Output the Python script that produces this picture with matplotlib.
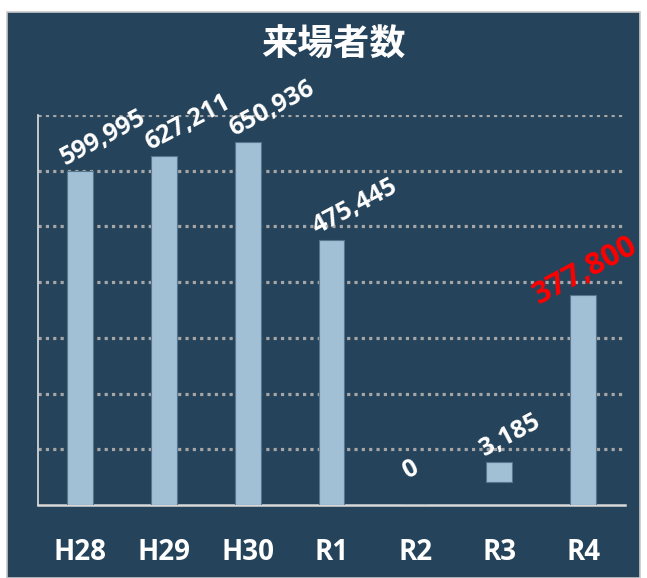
import numpy as np
import matplotlib.pyplot as plt
from matplotlib.patches import Rectangle

plt.rcParams['font.family'] = ['Open Sans', 'Noto Sans CJK JP', 'DejaVu Sans']

# data
categories = ['H28', 'H29', 'H30', 'R1', 'R2', 'R3', 'R4']
visitors = [599995, 627211, 650936, 475445, 0, 3185, 377800]
label_colors = ['white'] * 6 + ['red']

bg = '#25435a'
bar_color = '#a1bfd5'

fig = plt.figure(figsize=(6.47, 5.78), dpi=100)
fig.patch.set_facecolor('white')
# dark panel
fig.patches.append(Rectangle((7 / 647, 0), 633 / 647, 1 - 12 / 578, transform=fig.transFigure,
                             facecolor=bg, edgecolor='#c8c8c8', linewidth=1.2, zorder=-5))

ax = fig.add_axes([38 / 647, 73 / 578, 587 / 647, 390 / 578])
ax.set_facecolor('none')
ax.set_zorder(2)

x = np.arange(len(categories))
heights = np.array(visitors, dtype=float)
bottoms = np.zeros_like(heights)
# the R3 bar is drawn floating and enlarged in the source picture
heights[5] = 36000
bottoms[5] = 41000

ax.bar(x, heights, width=0.31, bottom=bottoms, color=bar_color,
       edgecolor='#56768d', linewidth=0.8, zorder=3)

ax.set_xlim(-0.5, len(categories) - 0.5)
ax.set_ylim(0, 700000)
ax.set_yticks(np.arange(100000, 700001, 100000))
ax.yaxis.grid(True, color='#a6a6a6', linestyle=(0, (1, 1.3)), linewidth=2.3, zorder=1)
ax.set_axisbelow(True)
ax.tick_params(left=False, bottom=False, labelleft=False)
ax.set_xticks(x)
ax.set_xticklabels(categories, color='white', fontsize=20, fontweight='bold')
ax.tick_params(axis='x', pad=20)

for s in ['top', 'right']:
    ax.spines[s].set_visible(False)
ax.spines['left'].set_color('#e0e0e0')
ax.spines['left'].set_linewidth(1.2)
ax.spines['bottom'].set_color('#d9d9d9')
ax.spines['bottom'].set_linewidth(1.8)

# data labels
for i, v in enumerate(visitors):
    top = bottoms[i] + heights[i]
    if label_colors[i] == 'red':
        dx, dy, fs = -0.52, -7, 22
    elif v == 0:
        dx, dy, fs = -0.1, 19, 18
    else:
        dx, dy, fs = -0.17, 4, 18
    ax.annotate(f'{v:,}', xy=(x[i] + dx, top), xytext=(0, dy), textcoords='offset points',
                rotation=28, rotation_mode='anchor', ha='left', va='baseline',
                color=label_colors[i], fontsize=fs, fontweight='bold')

fig.text(0.515, 1 - 45 / 578, '来場者数', ha='center', va='center', color='white',
         fontsize=26, fontweight='bold', family=['Noto Sans CJK JP', 'DejaVu Sans'])

fig.savefig('out.png', dpi=100, facecolor=fig.get_facecolor())
